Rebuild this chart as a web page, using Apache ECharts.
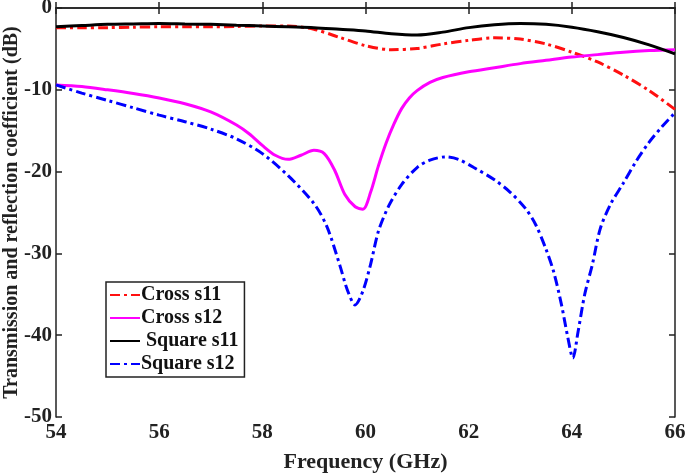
<!DOCTYPE html>
<html><head><meta charset="utf-8">
<script src="https://cdn.jsdelivr.net/npm/echarts@6/dist/echarts.min.js"></script>
<style>html,body{margin:0;padding:0;background:#fff}#c{width:685px;height:473px}</style>
</head><body><div id="c"></div>
<script>
const crossS11 = [[54,-2.4],[54.5,-2.4],[55,-2.4],[55.5,-2.35],[56,-2.3],[56.5,-2.3],[57,-2.3],[57.5,-2.25],[58,-2.2],[58.5,-2.2],[59,-2.6],[59.5,-3.6],[60,-4.6],[60.5,-5.1],[61,-4.95],[61.5,-4.4],[62,-3.95],[62.5,-3.65],[63,-3.8],[63.5,-4.4],[64,-5.4],[64.5,-6.6],[65,-8.2],[65.5,-10.1],[66,-12.4]];
const crossS12 = [[54,-9.4],[54.5,-9.6],[55,-10.0],[55.5,-10.45],[56,-11.0],[56.5,-11.7],[57,-12.7],[57.5,-14.3],[57.75,-15.4],[58,-16.8],[58.25,-18.0],[58.5,-18.5],[58.75,-18.0],[59,-17.4],[59.2,-17.8],[59.4,-19.8],[59.6,-22.8],[59.8,-24.3],[59.95,-24.6],[60.1,-22.5],[60.25,-19.3],[60.4,-16.5],[60.55,-14.2],[60.7,-12.3],[60.85,-11.0],[61,-10.1],[61.25,-9.1],[61.5,-8.5],[62,-7.8],[62.5,-7.3],[63,-6.8],[63.5,-6.4],[64,-6.0],[64.5,-5.7],[65,-5.4],[65.5,-5.2],[66,-5.1]];
const squareS11 = [[54,-2.3],[54.5,-2.15],[55,-2.0],[55.5,-1.95],[56,-1.9],[56.5,-1.95],[57,-2.0],[57.5,-2.1],[58,-2.2],[58.5,-2.3],[59,-2.4],[59.5,-2.6],[60,-2.8],[60.5,-3.15],[61,-3.3],[61.5,-2.95],[62,-2.4],[62.5,-2.05],[63,-1.9],[63.5,-2.0],[64,-2.35],[64.5,-2.9],[65,-3.6],[65.5,-4.5],[66,-5.6]];
const squareS12 = [[54,-9.4],[54.5,-10.4],[55,-11.3],[55.5,-12.2],[56,-13.1],[56.5,-13.9],[57,-14.8],[57.5,-16.0],[58,-17.8],[58.5,-20.5],[59,-23.9],[59.25,-26.7],[59.5,-31.4],[59.65,-34.5],[59.8,-36.3],[59.95,-34.6],[60.1,-31.3],[60.25,-27.3],[60.45,-24.2],[60.7,-21.6],[61,-19.5],[61.25,-18.6],[61.55,-18.2],[61.8,-18.5],[62.1,-19.5],[62.5,-21.0],[62.8,-22.5],[63.1,-24.5],[63.3,-26.5],[63.5,-29.5],[63.65,-32.3],[63.8,-36.3],[63.92,-40.2],[64.02,-42.8],[64.12,-39.6],[64.25,-35.0],[64.4,-31.3],[64.55,-27.0],[64.75,-24.0],[65,-21.4],[65.25,-18.7],[65.5,-16.4],[65.75,-14.5],[66,-12.8]];
const seriesNames = ['Cross s11','Cross s12',' Square s11','Square s12'];
const xTicks = [54,56,58,60,62,64,66];
const yTicks = [0,-10,-20,-30,-40,-50];

const font = 'Liberation Serif';
const chart = echarts.init(document.getElementById('c'));
const axBase = {
  axisLine:{show:true,lineStyle:{color:'#222',width:1.5}},
  axisTick:{show:true,inside:true,length:6,lineStyle:{color:'#222',width:1.5}},
  splitLine:{show:false}
};
chart.setOption({
  animation:false,
  grid:{left:56,right:10,top:8,bottom:56,containLabel:false,outerBoundsMode:'none'},
  legend:{
    orient:'vertical',left:106,top:282,
    data:seriesNames,
    backgroundColor:'#fff',borderColor:'#222',borderWidth:1.5,
    padding:[3,6,3,3],itemGap:3,itemWidth:30,itemHeight:12,
    itemStyle:{opacity:0},
    textStyle:{fontFamily:font,fontWeight:'bold',fontSize:20,color:'#111',padding:[0,0,0,-4]}
  },
  xAxis:[
    Object.assign({type:'value',min:54,max:66,interval:2,position:'bottom',
      name:'Frequency (GHz)',nameLocation:'middle',nameGap:34,
      nameTextStyle:{fontFamily:font,fontWeight:'bold',fontSize:22,color:'#222'},
      axisLabel:{fontFamily:font,fontWeight:'bold',fontSize:21,color:'#222',margin:5}},axBase),
    Object.assign({type:'value',min:54,max:66,interval:2,position:'top',axisLabel:{show:false}},axBase)
  ],
  yAxis:[
    Object.assign({type:'value',min:-50,max:0,interval:10,position:'left',
      name:'Transmission and reflection coefficient (dB)',nameLocation:'middle',nameGap:34,nameMoveOverlap:false,
      nameTextStyle:{fontFamily:font,fontWeight:'bold',fontSize:20,color:'#222'},
      axisLabel:{fontFamily:font,fontWeight:'bold',fontSize:21,color:'#222',margin:4}},axBase),
    Object.assign({type:'value',min:-50,max:0,interval:10,position:'right',axisLabel:{show:false}},axBase)
  ],
  series:[
    {name:seriesNames[0],type:'line',data:crossS11,smooth:0.3,symbol:'none',
      lineStyle:{color:'#ff1010',width:3,type:[10,4,3,4]},itemStyle:{color:'#ff1010'}},
    {name:seriesNames[1],type:'line',data:crossS12,smooth:0.3,symbol:'none',
      lineStyle:{color:'#ff00ff',width:3},itemStyle:{color:'#ff00ff'}},
    {name:seriesNames[2],type:'line',data:squareS11,smooth:0.3,symbol:'none',
      lineStyle:{color:'#000',width:3},itemStyle:{color:'#000'}},
    {name:seriesNames[3],type:'line',data:squareS12,smooth:0.3,symbol:'none',
      lineStyle:{color:'#0000ff',width:3,type:[10,4,3,4]},itemStyle:{color:'#0000ff'}}
  ]
});
</script></body></html>
